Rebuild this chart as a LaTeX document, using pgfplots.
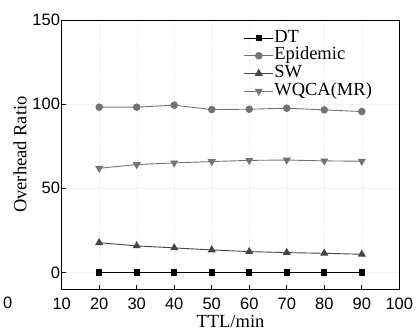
\documentclass[border=0pt]{standalone}
\usepackage{fontspec}
\setmainfont{Liberation Serif}
\newfontfamily\arialf{Liberation Sans}
\usepackage{pgfplots}
\pgfplotsset{compat=1.18}
\definecolor{gA}{HTML}{737373}
\definecolor{gB}{HTML}{454545}
\begin{document}
\begin{tikzpicture}
\path[use as bounding box] (-61.7bp,-43.7bp) rectangle (358.3bp,289.3bp);
\begin{axis}[
  at={(0,0)}, anchor=south west,
  scale only axis,
  width=337.6bp, height=269.3bp,
  xmin=10, xmax=100, ymin=-10, ymax=150,
  xtick={10,20,...,100}, ytick={0,50,100,150},
  tick align=inside, tick pos=left,
  major tick length=4bp,
  axis line style={line width=0.9bp},
  tick style={line width=0.8bp, black},
  /pgf/number format/assume math mode=true,
  ticklabel style={font=\arialf\fontsize{16.5bp}{18bp}\selectfont},
  yticklabel style={inner sep=1.5bp},
  xticklabel style={inner sep=2bp, yshift=-6bp},
  xlabel={TTL/min}, ylabel={Overhead Ratio},
  label style={font=\fontsize{18.5bp}{20bp}\selectfont},
  xlabel style={yshift=-1bp},
  ylabel style={yshift=1bp},
  grid=major, grid style={densely dotted, gray!12},
  legend style={draw=none, fill=none, at={(rel axis cs:0.53,0.974)}, anchor=north west,
    font=\fontsize{18.5bp}{16bp}\selectfont, row sep=0bp,
    nodes={inner sep=0.6bp, text height=12.5bp, text depth=4bp}},
  legend cell align=left,
  legend image code/.code={\draw[mark repeat=2,mark phase=2] plot coordinates {(0bp,0bp)(14.5bp,0bp)(29bp,0bp)};},
]
\addplot[black, line width=0.9bp, mark=square*, mark size=2.6bp, mark options={solid}] coordinates {
(20,0)(30,0)(40,0)(50,0)(60,0)(70,0)(80,0)(90,0)};
\addlegendentry{DT}
\addplot[gA, line width=0.9bp, mark=*, mark size=3.3bp, mark options={fill=gA, draw=gA}] coordinates {
(20,98.2)(30,98.2)(40,99.4)(50,96.8)(60,97.0)(70,97.6)(80,96.6)(90,95.6)};
\addlegendentry{Epidemic}
\addplot[gB, line width=0.9bp, mark=triangle*, mark size=3.8bp, mark options={fill=gB, draw=gB}] coordinates {
(20,17.7)(30,15.8)(40,14.6)(50,13.4)(60,12.4)(70,11.8)(80,11.4)(90,10.8)};
\addlegendentry{SW}
\addplot[gA, line width=0.9bp, mark=triangle*, mark size=3.8bp, mark options={fill=gA, draw=gA, rotate=180}] coordinates {
(20,61.9)(30,64.1)(40,65.1)(50,65.9)(60,66.6)(70,66.8)(80,66.3)(90,66.1)};
\addlegendentry{WQCA(MR)}
\end{axis}
\node[font=\arialf\fontsize{16.5bp}{18bp}\selectfont] at (-54bp,-13.7bp) {0};
\end{tikzpicture}
\end{document}
